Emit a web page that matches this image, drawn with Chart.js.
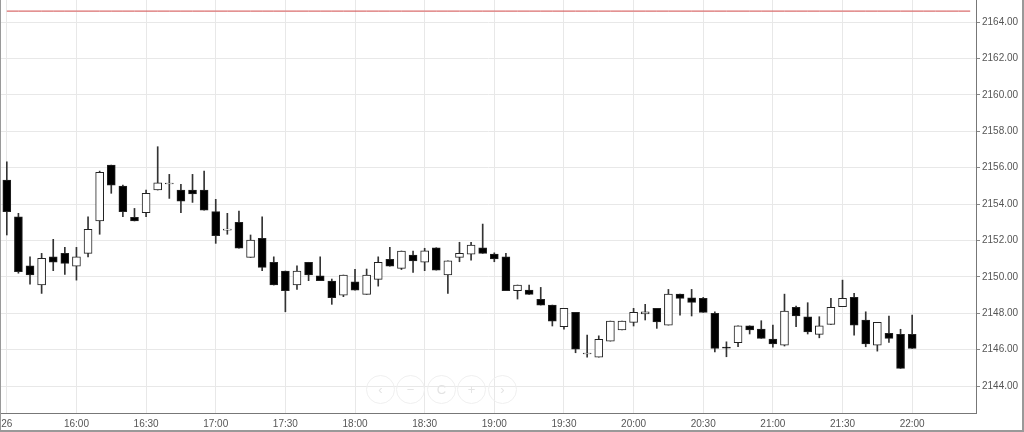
<!DOCTYPE html>
<html lang="en">
<head>
  <meta charset="UTF-8" />
  <title>5 min candles</title>
  <script src="https://cdn.jsdelivr.net/npm/chart.js"></script>
  <style>
    body {
      margin: 0;
      background: #fff;
      font-family: 'Liberation Sans', Arial, sans-serif;
    }

    .frame {
      position: relative;
      width: 1024px;
      height: 432px;
      box-sizing: border-box;
      border-left: 1px solid #999;
      border-right: 2px solid #999;
      border-bottom: 2px solid #999;
    }

    .frame canvas {
      display: block;
    }

    .nav {
      position: absolute;
      top: 375px;
      width: 27px;
      height: 27px;
      border: 1px solid #efefef;
      border-radius: 50%;
      color: #e4e4e4;
      font-size: 13px;
      line-height: 27px;
      text-align: center;
    }
  </style>
</head>
<body>

<div class="frame">
  <canvas id="candles" width="1021" height="430"></canvas>
  <!-- faint zoom / pan buttons -->
  <div class="nav" style="left:365px">&lsaquo;</div>
  <div class="nav" style="left:395px">&minus;</div>
  <div class="nav" style="left:426px">C</div>
  <div class="nav" style="left:456px">+</div>
  <div class="nav" style="left:487px">&rsaquo;</div>
</div>

<script>
  // 5 minute OHLC, 15:30 .. 22:00
  const opens = [
    2155.32, 2153.30, 2150.61, 2149.55, 2151.10, 2151.29, 2150.59, 2151.29, 2153.07, 2156.14,
    2154.99, 2153.27, 2153.52, 2154.77, 2155.10, 2154.77, 2154.77, 2154.77, 2153.58, 2152.57,
    2152.99, 2151.07, 2152.12, 2150.80, 2150.32, 2149.55, 2150.80, 2150.06, 2149.77, 2149.00,
    2149.73, 2149.04, 2149.86, 2150.96, 2150.47, 2151.20, 2150.80, 2151.60, 2150.10, 2151.07,
    2151.25, 2151.60, 2151.25, 2151.10, 2149.24, 2149.27, 2148.76, 2148.45, 2147.26, 2148.05,
    2145.76, 2145.59, 2146.47, 2147.08, 2147.50, 2147.97, 2148.27, 2147.35, 2149.05, 2148.85,
    2148.82, 2147.99, 2146.10, 2146.38, 2147.31, 2147.13, 2146.58, 2146.25, 2148.32, 2147.81,
    2146.84, 2147.39, 2148.36, 2148.87, 2147.63, 2146.25, 2146.90, 2146.84, 2146.84
  ];
  const highs = [
    2156.32, 2153.49, 2151.10, 2151.29, 2152.06, 2151.62, 2151.62, 2153.30, 2155.81, 2156.14,
    2155.04, 2153.76, 2154.77, 2157.15, 2155.63, 2155.08, 2155.63, 2155.81, 2154.26, 2153.49,
    2153.62, 2152.30, 2153.30, 2151.10, 2150.32, 2150.61, 2150.80, 2151.10, 2149.88, 2150.10,
    2150.41, 2150.43, 2151.10, 2151.62, 2151.42, 2151.42, 2151.57, 2151.60, 2150.88, 2151.90,
    2151.90, 2152.90, 2151.32, 2151.29, 2149.55, 2149.55, 2149.42, 2148.45, 2148.27, 2148.05,
    2146.80, 2146.76, 2147.57, 2147.57, 2148.27, 2148.49, 2148.27, 2149.31, 2149.05, 2149.31,
    2148.87, 2148.08, 2146.43, 2147.31, 2147.31, 2147.59, 2147.35, 2149.05, 2148.40, 2148.58,
    2147.81, 2148.82, 2149.82, 2149.09, 2148.08, 2147.50, 2147.85, 2147.12, 2147.90
  ];
  const lows = [
    2152.30, 2150.20, 2149.60, 2149.09, 2150.34, 2150.14, 2149.82, 2151.10, 2152.34, 2154.59,
    2153.30, 2153.07, 2153.30, 2154.77, 2154.31, 2153.52, 2154.09, 2153.67, 2151.84, 2152.34,
    2151.57, 2151.07, 2150.34, 2149.55, 2148.08, 2149.31, 2149.79, 2149.79, 2148.49, 2148.91,
    2149.27, 2149.04, 2149.49, 2150.59, 2150.40, 2150.25, 2150.34, 2150.37, 2149.09, 2150.83,
    2150.92, 2151.29, 2150.83, 2149.24, 2148.78, 2149.04, 2148.45, 2147.30, 2147.12, 2145.83,
    2145.59, 2145.59, 2146.47, 2147.08, 2147.30, 2147.63, 2147.17, 2147.35, 2147.90, 2147.85,
    2148.05, 2145.88, 2145.61, 2146.16, 2146.86, 2146.62, 2146.13, 2146.20, 2147.26, 2146.86,
    2146.65, 2147.39, 2148.36, 2146.80, 2146.16, 2145.92, 2146.40, 2144.97, 2146.07
  ];
  const closes = [
    2153.58, 2150.28, 2150.10, 2151.02, 2150.80, 2150.74, 2151.10, 2152.61, 2155.74, 2155.04,
    2153.58, 2153.07, 2154.59, 2155.17, 2155.10, 2154.16, 2154.55, 2153.67, 2152.26, 2152.57,
    2151.57, 2152.02, 2150.52, 2149.55, 2149.24, 2150.32, 2150.10, 2149.79, 2148.85, 2150.10,
    2149.27, 2150.10, 2150.80, 2150.59, 2151.42, 2150.88, 2151.43, 2150.37, 2150.88, 2151.29,
    2151.75, 2151.29, 2150.98, 2149.24, 2149.55, 2149.04, 2148.45, 2147.57, 2148.27, 2146.02,
    2145.76, 2146.57, 2147.57, 2147.57, 2148.05, 2148.08, 2147.53, 2149.05, 2148.82, 2148.60,
    2148.05, 2146.07, 2146.08, 2147.31, 2147.08, 2146.62, 2146.31, 2148.12, 2147.85, 2146.98,
    2147.31, 2148.32, 2148.82, 2147.35, 2146.31, 2147.50, 2146.62, 2144.97, 2146.07
  ];

  const refLevel = 2164.6;
  const yTicks = [2144, 2146, 2148, 2150, 2152, 2154, 2156, 2158, 2160, 2162, 2164];
  const xTickLabels = ['26', '16:00', '16:30', '17:00', '17:30', '18:00', '18:30',
    '19:00', '19:30', '20:00', '20:30', '21:00', '21:30', '22:00'];

  // one slot per 5 minutes, 15:30 .. 22:25 (empty slots on the right)
  const slots = [];
  for (let m = 15 * 60 + 30; m <= 22 * 60 + 25; m += 5) {
    slots.push(String(Math.floor(m / 60)).padStart(2, '0') + ':' + String(m % 60).padStart(2, '0'));
  }

  const bodyData = opens.map((o, i) => [o, closes[i]]);
  const wickData = lows.map((l, i) => [l, highs[i]]);
  const bodyFill = opens.map((o, i) => closes[i] >= o ? '#ffffff' : '#000000');

  const ctx = document.getElementById('candles').getContext('2d');

  new Chart(ctx, {
    type: 'bar',
    data: {
      labels: slots,
      datasets: [
        {
          label: 'body',
          data: bodyData,
          grouped: false,
          order: 0,
          barThickness: 8,
          minBarLength: 1,
          backgroundColor: bodyFill,
          borderColor: '#222',
          borderWidth: 1,
          borderSkipped: false
        },
        {
          label: 'wick',
          data: wickData,
          grouped: false,
          order: 1,
          barThickness: 1,
          backgroundColor: '#333',
          borderWidth: 0
        },
        {
          type: 'line',
          label: 'level',
          data: slots.map(() => refLevel),
          order: 2,
          borderColor: '#d04848',
          borderWidth: 1,
          pointRadius: 0
        }
      ]
    },
    options: {
      responsive: false,
      animation: false,
      layout: { padding: 0 },
      plugins: {
        legend: { display: false },
        tooltip: { enabled: false }
      },
      scales: {
        x: {
          type: 'category',
          offset: true,
          grid: {
            offset: false,
            color: '#e8e8e8',
            drawTicks: false
          },
          border: { color: '#777' },
          ticks: {
            autoSkip: false,
            maxRotation: 0,
            padding: 5,
            color: '#555',
            font: { family: "'Liberation Sans', Arial, sans-serif", size: 10 },
            callback: (val, idx) => idx % 6 === 0 ? xTickLabels[idx / 6] : null
          },
          afterFit: (axis) => {
            axis.height = 17;
            axis.paddingLeft = 0;
            axis.paddingRight = 0;
          }
        },
        y: {
          position: 'right',
          min: 2142.52,
          max: 2165.21,
          grid: {
            color: '#e8e8e8',
            tickColor: '#888',
            tickLength: 4
          },
          border: { color: '#777' },
          ticks: {
            padding: 2,
            color: '#555',
            font: { family: "'Liberation Sans', Arial, sans-serif", size: 10 },
            callback: (v) => v.toFixed(2)
          },
          afterBuildTicks: (axis) => { axis.ticks = yTicks.map(v => ({ value: v })); },
          afterFit: (axis) => {
            axis.width = 46;
            axis.paddingTop = 0;
            axis.paddingBottom = 0;
          }
        }
      }
    }
  });
</script>

</body>
</html>
